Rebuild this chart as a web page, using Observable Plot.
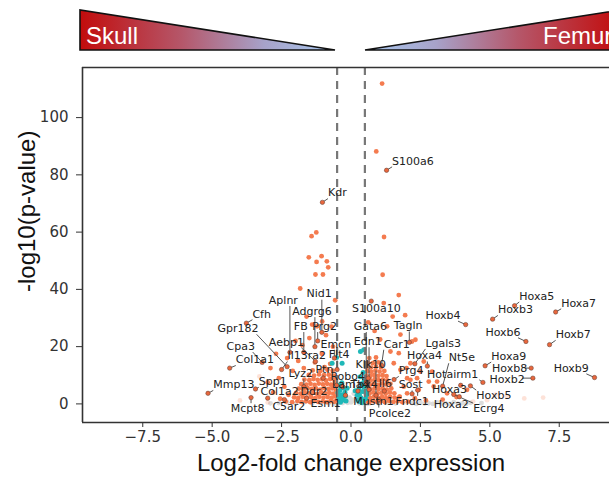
<!DOCTYPE html>
<html><head><meta charset="utf-8">
<script src="https://cdn.jsdelivr.net/npm/d3@7"></script>
<script src="https://cdn.jsdelivr.net/npm/@observablehq/plot@0.6"></script>
<style>
html,body{margin:0;padding:0;background:#fff;}
#wrap{position:relative;width:609px;height:477px;overflow:hidden;}
#banner{position:absolute;left:0;top:0;}
#chart{position:absolute;left:0;top:0;}
</style></head><body><div id="wrap"><div id="chart"></div></div>
<script>
// ---- axes ----
const xTicks = [-7.5, -5, -2.5, 0, 2.5, 5, 7.5];
const yTicks = [0, 20, 40, 60, 80, 100];
const xDomain = [-9.67, 9.67];
const yDomain = [-6.5, 117.5];
const fcThresholds = [-0.5, 0.5];
const bannerLabels = ["Skull", "Femur"];

// ---- non-significant genes (gray) ----
const grayPoints = [
  [-2.6,0.3],[-2.3,0.6],[-2.0,0.2],[-1.7,0.5],[-1.4,0.1],[-1.1,0.4],[-0.8,0.2],[-0.45,0.6],
  [-0.3,0.3],[-0.15,1.2],[0,0.5],[0.15,0.9],[0.3,0.2],[0.42,1.4],[-0.38,1.8],[-0.05,2.2],
  [0.2,2.6],[-0.25,3.0],[0.1,3.6],[0.7,0.3],[1.0,0.1],[1.3,0.4],[1.6,0.2],[1.9,0.5],
  [2.2,0.3],[2.5,0.6],[2.8,0.2],[3.1,0.5],[3.4,0.3],[3.7,0.6],[4.0,0.2],[4.3,0.4],
  [4.7,0.3],[-0.48,0.1],[0.05,1.5],[-0.12,0.4],[0.25,1.8],[-0.2,2.0],[0.36,0.7],[-2.9,0.2],
  [2.35,0.0],[2.65,0.1],[2.95,0.0],[3.25,0.1],[3.55,0.0],[3.85,0.1],[4.15,0.0],[-0.6,0.0],[0.6,0.0]
];
// ---- faint (low-count) genes ----
const faintPoints = [
  [-3.3,9.6],[-4.0,1.2],[6.24,1.9],[6.92,2.2],[5.6,2.8],[4.9,1.3],[5.2,3.2],[-3.0,0.5],[4.4,0.8]
];
// ---- |log2FC| < 0.5 but significant (teal) ----
const tealPoints = [
  [-0.42,1.2],[-0.3,2.0],[-0.18,1.0],[-0.35,3.2],[-0.22,4.1],[-0.4,4.8],[-0.28,5.6],[-0.45,6.5],
  [-0.33,7.4],[-0.2,2.8],[0.25,1.3],[0.35,2.2],[0.45,1.0],[0.3,3.4],[0.42,4.3],[0.28,5.2],
  [0.46,6.0],[0.38,7.0],[0.22,3.0],[0.48,8.2],[0.33,9.5],[0.44,11.0],[-0.68,14.2],[-0.52,16.2],
  [-0.32,14.2],[0.46,18.9],[0.34,18.3],[-0.14,5.5],[0.15,4.6],[0.56,3.1],
  [-0.44,2.4],[-0.27,1.4],[-0.38,0.6],[0.4,0.4],[0.52,1.8],[0.31,0.8],[0.58,4.6],[-0.47,3.9]
];
// ---- significant genes (orange) ----
const orangePoints = [
  // skull-side dense cloud
  [-2.35,0.8],[-2.12,0.6],[-1.93,1.0],[-1.78,0.7],[-1.62,0.9],[-1.47,0.6],[-1.33,1.1],[-1.18,0.7],[-1.02,0.9],[-0.88,0.6],[-0.74,1.0],[-0.61,0.7],[-0.52,1.2],
  [-2.05,2.3],[-1.9,2.1],[-1.74,2.5],[-1.6,2.2],[-1.44,2.4],[-1.29,2.0],[-1.14,2.5],[-0.99,2.2],[-0.84,2.4],[-0.7,2.1],[-0.57,2.6],
  [-1.98,3.8],[-1.82,3.6],[-1.67,4.0],[-1.51,3.7],[-1.37,3.9],[-1.22,3.5],[-1.07,4.0],[-0.92,3.7],[-0.78,3.9],[-0.64,3.6],[-0.53,4.1],
  [-1.88,5.3],[-1.71,5.1],[-1.56,5.5],[-1.41,5.2],[-1.26,5.4],[-1.11,5.0],[-0.96,5.5],[-0.81,5.2],[-0.67,5.4],[-0.55,5.1],
  [-1.79,6.9],[-1.61,6.7],[-1.46,7.0],[-1.31,6.6],[-1.16,7.1],[-1.01,6.8],[-0.86,7.0],[-0.72,6.7],[-0.58,7.2],
  [-1.68,8.5],[-1.5,8.3],[-1.35,8.7],[-1.2,8.4],[-1.04,8.6],[-0.9,8.2],[-0.75,8.7],[-0.6,8.4],
  [-1.52,10.1],[-1.33,9.9],[-1.15,10.3],[-0.97,10.0],[-0.8,10.2],[-0.63,9.9],
  [-1.38,11.7],[-1.1,11.5],[-0.85,11.9],[-0.66,11.6],
  // femur-side dense cloud
  [0.52,0.8],[0.66,0.6],[0.8,1.0],[0.94,0.7],[1.08,0.9],[1.22,0.6],[1.37,1.1],[1.52,0.7],[1.68,0.9],[1.85,0.6],[2.05,0.8],
  [0.55,2.3],[0.69,2.1],[0.83,2.5],[0.97,2.2],[1.12,2.4],[1.26,2.0],[1.41,2.5],[1.57,2.2],[1.75,2.4],
  [0.53,3.8],[0.67,3.6],[0.81,4.0],[0.96,3.7],[1.1,3.9],[1.25,3.5],[1.4,4.0],[1.56,3.7],
  [0.56,5.3],[0.7,5.1],[0.85,5.5],[0.99,5.2],[1.14,5.4],[1.29,5.0],[1.45,5.4],
  [0.54,6.9],[0.68,6.7],[0.83,7.0],[0.97,6.6],[1.12,7.1],[1.27,6.8],[1.42,7.0],
  [0.57,8.4],[0.71,8.2],[0.86,8.6],[1.0,8.3],[1.15,8.5],[1.3,8.2],
  [0.55,9.9],[0.7,9.7],[0.84,10.1],[0.99,9.8],[1.14,10.0],[1.28,9.7],
  [0.58,11.4],[0.73,11.2],[0.88,11.6],[1.03,11.3],[1.2,11.5],
  [0.56,12.9],[0.72,12.7],[0.9,13.0],[1.08,12.8],
  [0.6,14.4],[0.78,14.2],[0.98,14.5],[0.66,16.0],[0.9,16.2],
  // high / scattered
  [1.12,111.9],[0.91,88.2],[1.19,58.3],[-1.42,58.6],[-1.25,59.9],[-1.52,51.2],[-1.06,51.6],[-1.24,49.6],
  [-0.87,49.8],[-0.82,47.7],[-1.28,45.2],[-1.01,45.2],[1.14,45.1],[-1.83,40.3],[-0.57,36.2],[1.72,38.0],[1.18,35.2],
  [-1.6,30.5],[-1.4,27.7],[-1.22,27.1],[-1.04,28.8],[-0.9,24],[-0.7,27],[-2.0,22],[-1.75,20.5],[-1.5,23],
  [-2.3,16],[-0.65,20],[-1.9,15],[-1.05,17.5],[-0.75,14],[-2.1,11.5],[-2.6,9],[-2.4,6],[-2.8,4],[-2.9,12.5],
  [-2.7,17.5],[-3.0,7.5],[-1.3,14.5],[-1.7,12.5],[-0.95,12.8],[-2.25,3.2],[-2.55,1.8],
  [1.30,27.1],[1.78,24.2],[2.32,22.4],[2.2,21.8],[1.72,17.7],[1.42,18.3],[2.0,12.5],[1.54,14.2],[2.62,14.8],
  [2.92,11.3],[2.38,9.0],[2.02,9.0],[3.1,7.8],[2.14,14.2],[1.78,11.9],[2.5,11.3],[2.14,8.4],[2.8,7.8],
  [2.02,3.7],[2.44,4.9],[2.98,6.1],[3.46,3.7],[4.18,4.9],[1.9,6.0],[1.75,2.5],[2.3,2.0],[2.7,1.2],[3.3,1.5],
  [3.8,2.4],[1.05,22.5],[0.85,25.5],[1.5,30.5],[0.62,28.5],[1.95,31.0]
];

// ---- labelled genes ----
const geneNames = ["Kdr","S100a6","Nid1","Aplnr","Adgrg6","Cfh","Gpr182","Cpa3","Col1a1","Aebp1","FB","Prg2","Emcn","Il13ra2","Flt4","Ptn","Lyz2","Spp1","Col1a2","Ddr2","Robo4","Lama4","Tbx4","C5ar2","Esm1","Mcpt8","Mmp13",
  "S100a10","Gata6","Edn1","Tagln","Car1","Lgals3","Hoxa4","Nt5e","Klk10","Prg4","Il6","Sost","Hotairm1","Hoxa3","Hoxb5","Hoxa2","Ecrg4","Mustn1","Fndc1","Pcolce2",
  "Hoxa5","Hoxa7","Hoxb3","Hoxb4","Hoxb6","Hoxb7","Hoxa9","Hoxb8","Hoxb2","Hoxb9"];
const geneFC = [-1.03,1.28,-1.05,-2.2,-1.3,-3.77,-2.3,-3.2,-4.37,-1.28,-1.7,-1.2,-0.6,-2.5,-0.5,-1.0,-1.7,-3.44,-3.0,-1.6,-0.3,-0.2,0.25,-2.4,-0.52,-3.6,-5.15,
  0.73,0.55,0.65,2.10,1.1,2.3,2.75,3.3,0.9,1.55,1.2,2.2,4.75,3.95,4.3,3.9,3.7,0.62,2.4,1.0,
  5.89,7.37,5.10,4.13,6.30,7.15,4.83,6.49,6.55,8.77];
const geneP = [70.4,81.6,25.0,18.0,20.0,28.2,13.0,14.5,12.5,14.8,18.0,22.0,16.0,12.0,12.0,9.0,6.0,5.2,2.0,2.0,6.0,3.0,4.5,1.5,6.5,2.2,3.7,
  35.9,7.5,5.0,21.5,13.5,14.0,13.2,6.2,3.0,8.5,4.5,3.5,7.5,6.5,6.3,2.5,3.3,9.0,4.8,1.5,
  34.3,32.1,29.6,27.7,21.8,20.7,13.3,12.5,9.0,9.2];
const labelFC = [-0.83,1.48,-1.60,-2.96,-2.12,-3.55,-4.81,-4.48,-4.15,-2.96,-2.06,-1.40,-1.10,-2.29,-0.80,-1.28,-2.25,-3.32,-3.26,-1.82,-0.74,-0.68,-0.02,-2.83,-1.46,-4.33,-4.96,
  0.04,0.10,0.10,1.54,1.18,2.68,2.02,3.52,0.16,1.72,1.00,1.72,2.74,2.92,4.51,2.98,4.40,0.08,1.60,0.64,
  6.06,7.57,5.29,2.68,4.84,7.37,5.05,5.08,4.99,7.30];
const labelP = [73.7,84.8,38.4,36.2,32.3,31.4,26.3,20.1,15.4,21.6,27.1,27.1,20.9,16.8,17.2,11.9,10.7,7.8,4.3,4.3,9.6,6.7,6.7,-0.9,0.2,-1.75,6.7,
  33.3,27.1,21.8,27.3,20.9,21.2,16.8,16.2,13.7,11.6,7.2,6.7,10.4,4.9,2.8,-0.1,-1.75,0.8,0.8,-3.3,
  37.6,35.2,32.9,30.9,25.1,24.2,16.6,12.3,8.4,12.5];

// ---- build tables ----
const toRows = (pts) => pts.map(([x, y]) => ({x, y}));
const CHAR = 0.235, HALF = 2.0; // approx label box in data units
const genes = geneNames.map((name, i) => {
  const x = geneFC[i], y = geneP[i], lx = labelFC[i], ly = labelP[i];
  const w = name.length * CHAR;
  const ex = Math.max(lx, Math.min(lx + w, x));
  const ey = Math.max(ly - HALF, Math.min(ly + HALF, y));
  return {name, x, y, lx, ly, ex, ey};
});

const titleFont = "'Liberation Sans', Arial, sans-serif";
const plot = Plot.plot({
  width: 609,
  height: 477,
  marginLeft: 82,
  marginRight: 0,
  marginTop: 67,
  marginBottom: 55,
  style: {fontFamily: "'DejaVu Sans', sans-serif", background: "transparent"},
  x: {domain: xDomain, range: [82, 619]},
  y: {domain: yDomain},
  marks: [
    Plot.dot(toRows(grayPoints), {x: "x", y: "y", r: 2.4, fill: "#dcdcdc"}),
    Plot.dot(toRows(faintPoints), {x: "x", y: "y", r: 2.4, fill: "#f47b4f", fillOpacity: 0.22}),
    Plot.dot(toRows(orangePoints), {x: "x", y: "y", r: 2.4, fill: "#f47b4f"}),
    Plot.dot(toRows(tealPoints), {x: "x", y: "y", r: 2.5, fill: "#1fb8b8"}),
    Plot.ruleX(fcThresholds, {stroke: "#777", strokeWidth: 2.2, strokeDasharray: "8,6"}),
    Plot.link(genes, {x1: "x", y1: "y", x2: "ex", y2: "ey", stroke: "#555", strokeWidth: 1}),
    Plot.dot(genes, {x: "x", y: "y", r: 2.2, fill: "#e8673d", stroke: "#5a3a30", strokeWidth: 0.5}),
    Plot.text(genes, {x: "lx", y: "ly", text: "name", textAnchor: "start", lineAnchor: "middle", fontSize: 11, fill: "#222"}),
    Plot.ruleY([yDomain[0], yDomain[1]], {stroke: "#333", strokeWidth: 1.6}),
    Plot.ruleX([xDomain[0]], {stroke: "#333", strokeWidth: 1.6}),
    Plot.axisX(xTicks, {tickSize: 5, tickPadding: 4, tickFormat: d3.format(".1f"), fontSize: 15, color: "#333", label: null}),
    Plot.axisY(yTicks, {tickSize: 6, tickPadding: 8, tickFormat: d => String(d), fontSize: 15, color: "#333", label: null}),
    Plot.text(["Log2-fold change expression"], {x: 0, frameAnchor: "bottom", dy: 48, fontSize: 24, fontFamily: titleFont, fill: "#111"}),
    Plot.text(["-log10(p-value)"], {frameAnchor: "left", dx: -55, dy: 47, rotate: -90, fontSize: 24, fontFamily: titleFont, fill: "#111"})
  ]
});
document.getElementById("chart").appendChild(plot);

// ---- Skull / Femur banner ----
const svg = d3.select("#wrap").append("svg").attr("id", "banner").attr("width", 609).attr("height", 62);
const defs = svg.append("defs");
function grad(id, reverse) {
  const stops = [["0%", "#c20c0c"], ["40%", "#b5576a"], ["72%", "#a7a2c9"], ["100%", "#a9c9f0"]];
  const g = defs.append("linearGradient").attr("id", id)
    .attr("x1", reverse ? "1" : "0").attr("x2", reverse ? "0" : "1").attr("y1", "0").attr("y2", "0");
  stops.forEach(([o, c]) => g.append("stop").attr("offset", o).attr("stop-color", c));
}
grad("gL", false); grad("gR", true);
svg.append("polygon").attr("points", "80,10 80,50 335,50").attr("fill", "url(#gL)").attr("stroke", "#111").attr("stroke-width", 1.6).attr("stroke-linejoin", "miter");
svg.append("polygon").attr("points", "365,50 620,10 620,50").attr("fill", "url(#gR)").attr("stroke", "#111").attr("stroke-width", 1.6);
svg.append("text").attr("x", 86).attr("y", 44).attr("fill", "#fff").attr("font-size", 24).attr("font-family", titleFont).text(bannerLabels[0]);
svg.append("text").attr("x", 543).attr("y", 44).attr("fill", "#fff").attr("font-size", 24).attr("font-family", titleFont).text(bannerLabels[1]);
</script></body></html>
